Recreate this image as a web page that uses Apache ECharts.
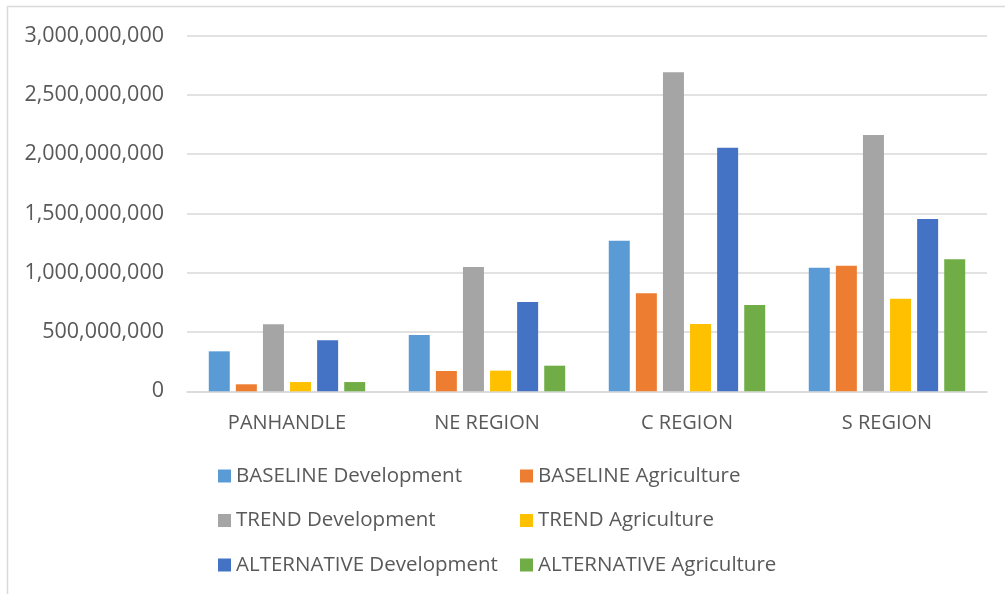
<!DOCTYPE html>
<html>
<head>
<meta charset="utf-8">
<script src="https://cdn.jsdelivr.net/npm/echarts@6/dist/echarts.min.js"></script>
<style>html,body{margin:0;padding:0;background:#fff;}#c{width:1005px;height:594px;}</style>
</head>
<body>
<div id="c"></div>
<script>
const categories = ['PANHANDLE', 'NE REGION', 'C REGION', 'S REGION'];
const seriesNames = ['BASELINE Development', 'BASELINE Agriculture', 'TREND Development', 'TREND Agriculture', 'ALTERNATIVE Development', 'ALTERNATIVE Agriculture'];
const baselineDevelopment = [337000000, 475000000, 1270000000, 1042000000];
const baselineAgriculture = [59000000, 171000000, 826000000, 1059000000];
const trendDevelopment = [565000000, 1048000000, 2690000000, 2161000000];
const trendAgriculture = [78000000, 174000000, 567000000, 781000000];
const alternativeDevelopment = [430000000, 753000000, 2054000000, 1453000000];
const alternativeAgriculture = [78000000, 216000000, 728000000, 1113000000];
const yTicks = { min: 0, max: 3000000000, interval: 500000000 };
const colors = ['#5b9bd5', '#ed7d31', '#a5a5a5', '#ffc000', '#4472c4', '#70ad47'];

const values = [baselineDevelopment, baselineAgriculture, trendDevelopment, trendAgriculture, alternativeDevelopment, alternativeAgriculture];
const font = 'Open Sans';
const chart = echarts.init(document.getElementById('c'));
const legendText = { color: '#595959', fontSize: 20.5, fontFamily: font, lineHeight: 22 };
const legendBase = { top: 465, orient: 'vertical', padding: 0, itemWidth: 13, itemHeight: 13, itemGap: 22.5, icon: 'rect', textStyle: legendText };
chart.setOption({
  animation: false,
  color: colors,
  graphic: [{
    type: 'polyline', silent: true,
    shape: { points: [[7.5, 594], [7.5, 6.5], [1005, 6.5]] },
    style: { stroke: '#d9d9d9', lineWidth: 1.5, fill: null }
  }],
  grid: { left: 187, right: 18, top: 35.5, bottom: 202.7 },
  legend: [
    Object.assign({ left: 218, data: [seriesNames[0], seriesNames[2], seriesNames[4]] }, legendBase),
    Object.assign({ left: 520, data: [seriesNames[1], seriesNames[3], seriesNames[5]] }, legendBase)
  ],
  xAxis: {
    type: 'category', data: categories,
    axisLine: { lineStyle: { color: '#d9d9d9', width: 1.5 } },
    axisTick: { show: false },
    axisLabel: { color: '#595959', fontSize: 20, fontFamily: font, margin: 22 }
  },
  yAxis: {
    type: 'value', min: yTicks.min, max: yTicks.max, interval: yTicks.interval,
    axisLine: { show: false }, axisTick: { show: false },
    splitLine: { lineStyle: { color: '#d9d9d9', width: 1.5 } },
    axisLabel: { color: '#595959', fontSize: 21.5, fontFamily: font, margin: 23,
      formatter: v => v.toLocaleString('en-US') }
  },
  series: seriesNames.map((n, i) => ({
    name: n, type: 'bar', data: values[i], barWidth: 21, barGap: '29%'
  }))
});
</script>
</body>
</html>
